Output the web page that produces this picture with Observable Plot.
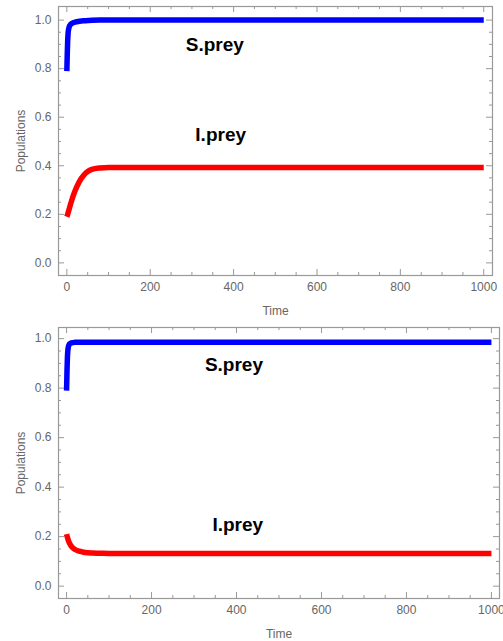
<!DOCTYPE html>
<html>
<head>
<meta charset="utf-8">
<script src="https://cdn.jsdelivr.net/npm/d3@7"></script>
<script src="https://cdn.jsdelivr.net/npm/@observablehq/plot@0.6"></script>
<style>
  html, body { margin: 0; padding: 0; background: #fff; }
  svg { display: block; }
</style>
</head>
<body>
<div id="chart"></div>
<script>
// ---- data ----
const time = [0,1,2,3,4,5,6,8,10,15,20,30,40,50,60,80,100,150,200,300,400,500,600,700,800,900,1000];

const topSprey = [0.79,0.86,0.915,0.945,0.96,0.968,0.974,0.98,0.984,0.989,0.992,0.995,0.997,0.998,0.999,1.0,1.0,1.0,1.0,1.0,1.0,1.0,1.0,1.0,1.0,1.0,1.0];
const topIprey = [0.19,0.195,0.2,0.206,0.212,0.218,0.224,0.236,0.248,0.275,0.298,0.335,0.36,0.376,0.385,0.391,0.393,0.393,0.393,0.393,0.393,0.393,0.393,0.393,0.393,0.393,0.393];

const botSprey = [0.79,0.87,0.925,0.952,0.965,0.972,0.976,0.98,0.982,0.984,0.985,0.985,0.985,0.985,0.985,0.985,0.985,0.985,0.985,0.985,0.985,0.985,0.985,0.985,0.985,0.985,0.985];
const botIprey = [0.21,0.203,0.197,0.191,0.186,0.181,0.177,0.17,0.164,0.154,0.148,0.141,0.137,0.135,0.134,0.133,0.132,0.132,0.132,0.132,0.132,0.132,0.132,0.132,0.132,0.132,0.132];

const xMajor = [0,200,400,600,800,1000];
const xMinor = [50,100,150,250,300,350,450,500,550,650,700,750,850,900,950];
const yMajor = [0,0.2,0.4,0.6,0.8,1.0];
const yMinor = [0.05,0.1,0.15,0.25,0.3,0.35,0.45,0.5,0.55,0.65,0.7,0.75,0.85,0.9,0.95];

const labelText = ["S.prey","I.prey"];
const topLabelX = [355,369];
const topLabelY = [0.896,0.529];
const botLabelX = [394,403];
const botLabelY = [0.895,0.248];

const xLabel = "Time";
const yLabel = "Populations";

// ---- drawing ----
const frameColor = "#999";
const textColor = "#666";

function panel({width, height, mt, mb, ml, mr, xDomain, yDomain, S, I, lx, ly}) {
  const pw = width - ml - mr;
  const ph = height - mt - mb;
  const rowsS = time.map((t, i) => ({t, v: S[i]}));
  const rowsI = time.map((t, i) => ({t, v: I[i]}));
  const labels = labelText.map((s, i) => ({s, x: lx[i], y: ly[i]}));
  return Plot.plot({
    width, height,
    marginTop: mt, marginBottom: mb, marginLeft: ml, marginRight: mr,
    style: {fontFamily: "'Liberation Sans', Arial, sans-serif", fontSize: "12px", color: textColor, background: "#fff"},
    x: {domain: xDomain},
    y: {domain: yDomain},
    marks: [
      // inward frame ticks
      Plot.tickX(xMajor, {x: d => d, insetTop: ph - 6, stroke: frameColor}),
      Plot.tickX(xMajor, {x: d => d, insetBottom: ph - 6, stroke: frameColor}),
      Plot.tickX(xMinor, {x: d => d, insetTop: ph - 3, stroke: frameColor}),
      Plot.tickX(xMinor, {x: d => d, insetBottom: ph - 3, stroke: frameColor}),
      Plot.tickY(yMajor, {y: d => d, insetRight: pw - 6, stroke: frameColor}),
      Plot.tickY(yMajor, {y: d => d, insetLeft: pw - 6, stroke: frameColor}),
      Plot.tickY(yMinor, {y: d => d, insetRight: pw - 3, stroke: frameColor}),
      Plot.tickY(yMinor, {y: d => d, insetLeft: pw - 3, stroke: frameColor}),
      Plot.axisX({ticks: xMajor, tickSize: 0, tickPadding: 7, tickFormat: d => String(d),
        label: xLabel, labelAnchor: "center", labelArrow: "none", labelOffset: 39, fill: textColor}),
      Plot.axisY({ticks: yMajor, tickSize: 0, tickPadding: 7, tickFormat: d3.format(".1f"),
        label: yLabel, labelAnchor: "center", labelArrow: "none", labelOffset: 42, fill: textColor}),
      Plot.frame({stroke: frameColor, strokeWidth: 1.2}),
      Plot.line(rowsS, {x: "t", y: "v", stroke: "#0000ff", strokeWidth: 5.5, curve: "monotone-x", strokeLinecap: "butt"}),
      Plot.line(rowsI, {x: "t", y: "v", stroke: "#ff0000", strokeWidth: 5.5, curve: "monotone-x", strokeLinecap: "butt"}),
      Plot.text(labels, {x: "x", y: "y", text: "s", fontSize: 19, fontWeight: "bold", fill: "#000", textAnchor: "middle", lineAnchor: "middle"})
    ]
  });
}

const root = document.getElementById("chart");
root.appendChild(panel({
  width: 503, height: 320, mt: 6, mb: 45, ml: 58, mr: 11,
  xDomain: [-20, 1021], yDomain: [-0.052, 1.056],
  S: topSprey, I: topIprey, lx: topLabelX, ly: topLabelY
}));
root.appendChild(panel({
  width: 503, height: 321, mt: 7, mb: 43, ml: 58, mr: 4,
  xDomain: [-19, 1019], yDomain: [-0.05, 1.045],
  S: botSprey, I: botIprey, lx: botLabelX, ly: botLabelY
}));
</script>
</body>
</html>
